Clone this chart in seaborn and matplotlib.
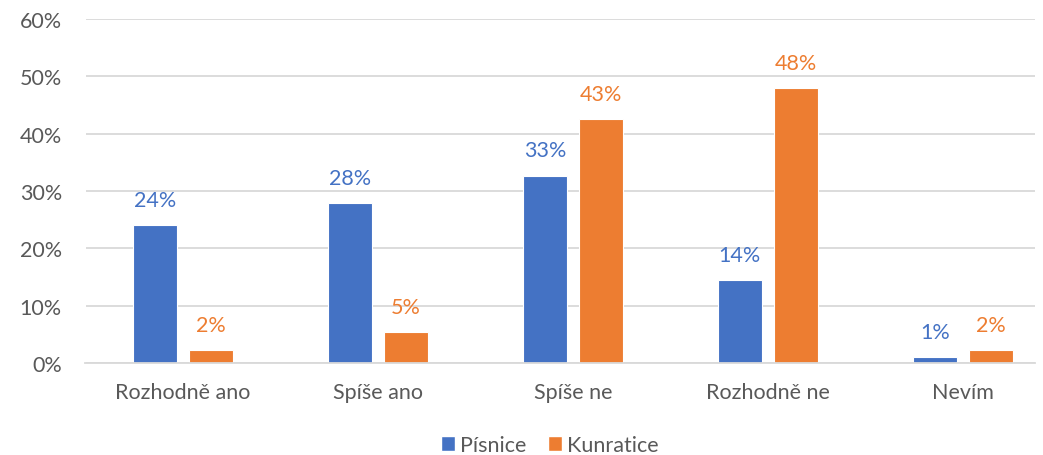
import matplotlib
matplotlib.use("Agg")
import matplotlib.pyplot as plt
import seaborn as sns
import pandas as pd
from matplotlib.ticker import PercentFormatter
from matplotlib.patches import Patch

categories = ["Rozhodně ano", "Spíše ano", "Spíše ne", "Rozhodně ne", "Nevím"]
series_names = ["Písnice", "Kunratice"]
pisnice = [24.1, 27.9, 32.7, 14.4, 1.0]
kunratice = [2.2, 5.4, 42.6, 47.9, 2.2]
colors = ["#4472C4", "#ED7D31"]

df = pd.DataFrame({
    "cat": categories * 2,
    "series": [series_names[0]] * len(categories) + [series_names[1]] * len(categories),
    "val": pisnice + kunratice,
})

sns.set_theme(style="white")
plt.rcParams["font.family"] = ["Lato", "DejaVu Sans"]

FS = 15.5
fig = plt.figure(figsize=(10.43, 4.56), dpi=100)
ax = fig.add_axes([85.5 / 1043, 0.2018, (1035 - 85.5) / 1043, 0.7542])

sns.barplot(data=df, x="cat", y="val", hue="series", palette=colors,
            width=0.576, gap=0.215, ax=ax, legend=False, saturation=1,
            edgecolor="white", linewidth=0.8)

ax.set_ylim(0, 60)
ax.set_xlim(-0.5, (1035 - 85.5) / 195 - 0.5)
ax.set_yticks(range(0, 61, 10))
ax.yaxis.set_major_formatter(PercentFormatter(decimals=0))
ax.grid(axis="y", color="#D9D9D9", linewidth=1.3)
ax.set_axisbelow(True)
for s in ["top", "right", "left"]:
    ax.spines[s].set_visible(False)
ax.spines["bottom"].set_color("#D9D9D9")
ax.spines["bottom"].set_linewidth(1.3)
ax.set_xlabel("")
ax.set_ylabel("")
ax.tick_params(axis="both", length=0, labelsize=FS, labelcolor="#595959")
ax.tick_params(axis="x", pad=14)
ax.tick_params(axis="y", pad=17)

for cont, col in zip(ax.containers, colors):
    ax.bar_label(cont, labels=[f"{v:.0f}%" for v in cont.datavalues],
                 padding=11, color=col, fontsize=FS)

handles = [Patch(facecolor=c, label=n) for c, n in zip(colors, series_names)]
fig.legend(handles=handles, loc="center", bbox_to_anchor=(0.527, 1 - 446 / 456),
           ncol=2, frameon=False, fontsize=FS, handlelength=0.65, handleheight=0.65,
           handletextpad=0.25, columnspacing=1.0, labelcolor="#595959",
           borderpad=0, borderaxespad=0)

fig.savefig("out.png", dpi=100)
